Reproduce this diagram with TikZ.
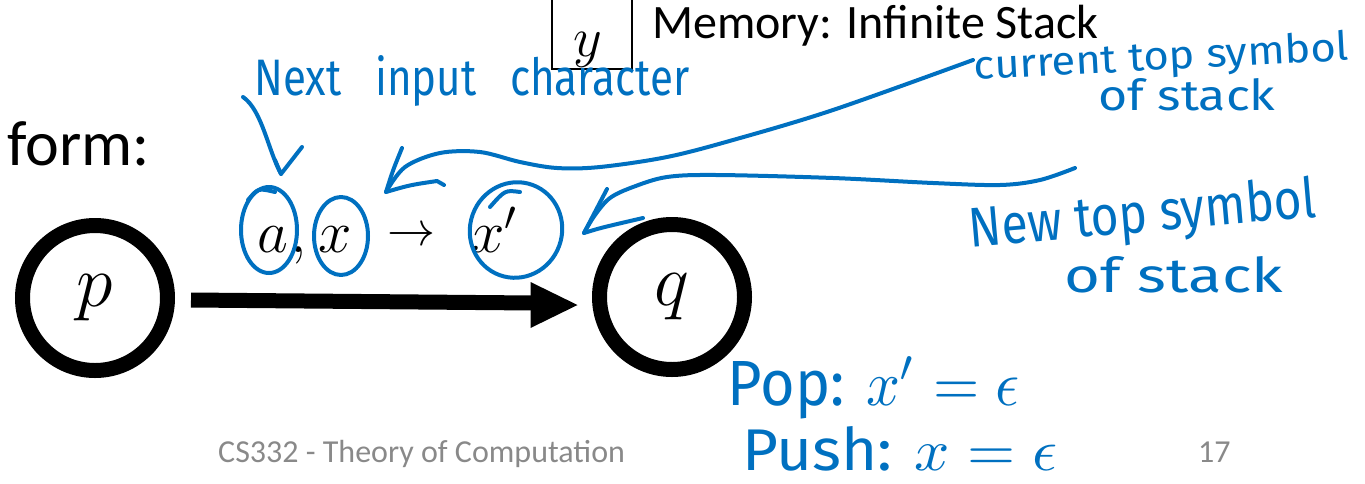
\RequirePackage{fix-cm}
\documentclass[tikz,border=0pt]{standalone}
\usepackage{fontspec}
\setmainfont{Carlito}
\newfontfamily\handfont{Fira Sans}
\definecolor{penblue}{RGB}{0,112,192}
\definecolor{footgray}{RGB}{137,137,137}
\tikzset{
  state/.style={circle, draw=black, line width=15pt, minimum size=145pt, inner sep=0pt, font=\fontsize{74}{74}\selectfont},
  pen/.style={draw=penblue, line width=4pt, line cap=round, line join=round},
  note/.style={text=penblue, font=\handfont, inner sep=0pt},
  mathlbl/.style={anchor=base, inner sep=0pt, font=\fontsize{60}{60}\selectfont},
  slide/.style={inner sep=0pt, font=\fontsize{#1}{#1}\selectfont},
}
\begin{document}
\begin{tikzpicture}[x=1pt,y=-1pt]
\useasboundingbox (0,0) rectangle (1365,483);

% slide text
\node[slide=64, anchor=base east] (form) at (150,165) {form:};
\node[slide=48, anchor=base west] (mem) at (652,38) {Memory: Infinite Stack};
\node[draw, line width=1.6pt, minimum width=80pt, minimum height=90pt, anchor=south, inner sep=0pt] (ybox) at (592,70) {};
\node[mathlbl, font=\fontsize{56}{56}\selectfont] (ysym) at (588,56) {$y$};

% states and transition
\node[state] (p) at (95,298) {$p$};
\node[state] (q) at (672,297) {$q$};
\coordinate (tail) at ([xshift=16pt,yshift=-2pt]p.east);
\coordinate (tip) at ([xshift=-14.5pt,yshift=-8pt]q.west);
\draw[line width=15pt] (tail) -- ([xshift=-44pt,yshift=2pt]tip);
\fill (tip) -- ++(-47,-23) -- ++(0,46) -- cycle;

% transition label
\node[mathlbl] (la) at (273,252) {$a$};
\node[mathlbl] (lcomma) at (299,252) {$,$};
\node[mathlbl] (lx) at (335,252) {$x$};
\node[mathlbl, font=\fontsize{48}{48}\selectfont] (larr) at (411,245) {$\to$};
\node[mathlbl] (lxp) at (494,252) {$x'$};

% pen circles round the label symbols
\draw[pen] (269,230) ellipse [x radius=28pt, y radius=43pt];
\draw[pen] (248,200) .. controls (258,188) .. (275,192);
\draw[pen] (341,236) ellipse [x radius=27pt, y radius=39pt];
\draw[pen, rotate around={-20:(516,230)}] (516,230) ellipse [x radius=46pt, y radius=48pt];
\draw[pen] (490,207) .. controls (505,190) .. (520,192);

% pen notes
\node[note, anchor=base] (nNext) at (472,95) {\resizebox{435pt}{40pt}{Next\hspace{0.8em}input\hspace{0.8em}character}};
\node[note, anchor=base, rotate=3] (nCur) at (1162,70) {\resizebox{375pt}{30pt}{current top symbol}};
\node[note, anchor=base] (nCur2) at (1187,110) {\resizebox{177pt}{32pt}{of stack}};
\node[note, anchor=base, rotate=5] (nNew) at (1144,232) {\resizebox{348pt}{42pt}{New top symbol}};
\node[note, anchor=base] (nNew2) at (1174,292) {\resizebox{218pt}{36pt}{of stack}};
\node[note, anchor=base] (nPop) at (874,405) {\resizebox{292pt}{48pt}{Pop: $x'=\epsilon$}};
\node[note, anchor=base] (nPush) at (900,470) {\resizebox{315pt}{44pt}{Push: $x=\epsilon$}};

% pen arrows
\coordinate (nxtStart) at (243,97);
\coordinate (nxtTip) at (281,174);
\draw[pen] (nxtStart) .. controls (262,110) and (268,150) .. (nxtTip);
\draw[pen] (275,160) -- (nxtTip) -- (302,147);

\coordinate (curStart) at (973,60);
\coordinate (curTip) at (386,192);
\draw[pen] plot[smooth, tension=0.55] coordinates {(curStart) (833,110) (733,140) (667,157) (600,167) (557,168) (520,162) (480,152) (440,153) (405,167) (curTip)};
\draw[pen] (402,148) .. controls (393,170) .. (curTip) .. controls (410,185) .. (437,181) -- (444,185);

\coordinate (newStart) at (1075,168);
\coordinate (newTip) at (584,233);
\draw[pen] plot[smooth, tension=0.55] coordinates {(newStart) (1040,180) (1000,185) (933,183) (833,178) (717,175) (667,177) (633,187) (610,198) (595,215) (newTip)};
\draw[pen] (607,189) -- (newTip) .. controls (600,228) .. (643,218);

% footer
\node[slide=32, anchor=base west, text=footgray] (foot) at (218,462) {CS332 - Theory of Computation};
\node[slide=32, anchor=base west, text=footgray] (page) at (1198,462) {17};
\end{tikzpicture}
\end{document}
